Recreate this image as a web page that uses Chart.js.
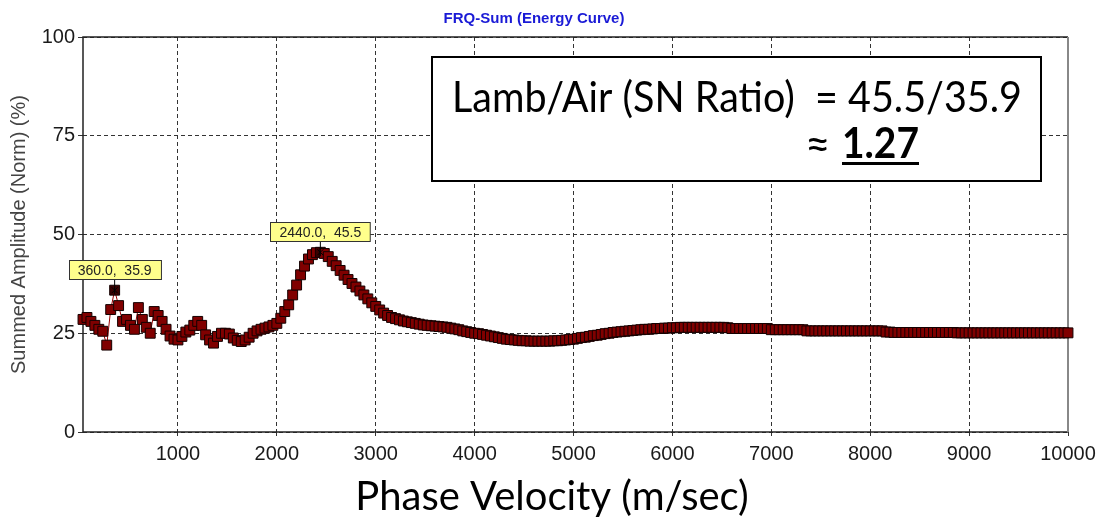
<!DOCTYPE html>
<html>
<head>
<meta charset="utf-8">
<script src="https://cdn.jsdelivr.net/npm/chart.js@4.4.1/dist/chart.umd.min.js"></script>
<style>
  html, body { margin: 0; padding: 0; background: #fff; }
  #wrap { width: 1100px; height: 524px; }
</style>
</head>
<body>
<div id="wrap"><canvas id="energyChart" width="1100" height="524"></canvas></div>
<script>
// tick labels
var xTicks = [1000, 2000, 3000, 4000, 5000, 6000, 7000, 8000, 9000, 10000];
var yTicks = [0, 25, 50, 75, 100];

// phase velocity (m/sec)
var velocity = [
  40, 80, 120, 160, 200, 240, 280, 320, 360, 400,
  440, 480, 520, 560, 600, 640, 680, 720, 760, 800,
  840, 880, 920, 960, 1000, 1040, 1080, 1120, 1160, 1200,
  1240, 1280, 1320, 1360, 1400, 1440, 1480, 1520, 1560, 1600,
  1640, 1680, 1720, 1760, 1800, 1840, 1880, 1920, 1960, 2000,
  2040, 2080, 2120, 2160, 2200, 2240, 2280, 2320, 2360, 2400,
  2440, 2480, 2520, 2560, 2600, 2640, 2680, 2720, 2760, 2800,
  2840, 2880, 2920, 2960, 3000, 3040, 3080, 3120, 3160, 3200,
  3240, 3280, 3320, 3360, 3400, 3440, 3480, 3520, 3560, 3600,
  3640, 3680, 3720, 3760, 3800, 3840, 3880, 3920, 3960, 4000,
  4040, 4080, 4120, 4160, 4200, 4240, 4280, 4320, 4360, 4400,
  4440, 4480, 4520, 4560, 4600, 4640, 4680, 4720, 4760, 4800,
  4840, 4880, 4920, 4960, 5000, 5040, 5080, 5120, 5160, 5200,
  5240, 5280, 5320, 5360, 5400, 5440, 5480, 5520, 5560, 5600,
  5640, 5680, 5720, 5760, 5800, 5840, 5880, 5920, 5960, 6000,
  6040, 6080, 6120, 6160, 6200, 6240, 6280, 6320, 6360, 6400,
  6440, 6480, 6520, 6560, 6600, 6640, 6680, 6720, 6760, 6800,
  6840, 6880, 6920, 6960, 7000, 7040, 7080, 7120, 7160, 7200,
  7240, 7280, 7320, 7360, 7400, 7440, 7480, 7520, 7560, 7600,
  7640, 7680, 7720, 7760, 7800, 7840, 7880, 7920, 7960, 8000,
  8040, 8080, 8120, 8160, 8200, 8240, 8280, 8320, 8360, 8400,
  8440, 8480, 8520, 8560, 8600, 8640, 8680, 8720, 8760, 8800,
  8840, 8880, 8920, 8960, 9000, 9040, 9080, 9120, 9160, 9200,
  9240, 9280, 9320, 9360, 9400, 9440, 9480, 9520, 9560, 9600,
  9640, 9680, 9720, 9760, 9800, 9840, 9880, 9920, 9960, 10000
];

// summed amplitude (norm) (%)
var amplitude = [
  28.5, 29.0, 28.0, 27.0, 26.0, 25.5, 22.0, 31.0, 35.9, 32.0,
  28.0, 28.5, 27.0, 26.0, 31.5, 28.5, 26.5, 25.0, 30.5, 29.5,
  28.0, 26.0, 24.3, 23.5, 23.3, 24.2, 25.3, 25.8, 27.0, 28.0,
  27.0, 24.6, 23.3, 22.5, 24.2, 25.0, 25.0, 24.8, 23.8, 23.2,
  22.9, 23.3, 24.0, 25.0, 25.6, 26.0, 26.3, 26.6, 27.0, 27.5,
  28.8, 30.5, 32.2, 34.7, 37.2, 39.8, 42.0, 43.8, 44.9, 45.4,
  45.5, 45.2, 44.4, 43.2, 42.1, 40.9, 39.7, 38.6, 37.6, 36.7,
  35.7, 34.7, 33.7, 32.7, 31.8, 30.9, 30.1, 29.5, 29.0, 28.7,
  28.4, 28.1, 27.9, 27.7, 27.5, 27.3, 27.1, 27.0, 26.9, 26.8,
  26.7, 26.6, 26.5, 26.3, 26.1, 25.9, 25.6, 25.4, 25.2, 25.0,
  24.9, 24.7, 24.5, 24.3, 24.1, 23.9, 23.7, 23.5, 23.4, 23.3,
  23.2, 23.1, 23.1, 23.0, 23.0, 23.0, 23.0, 23.0, 23.0, 23.1,
  23.1, 23.2, 23.3, 23.4, 23.5, 23.7, 23.9, 24.0, 24.2, 24.4,
  24.5, 24.7, 24.9, 25.0, 25.2, 25.3, 25.4, 25.5, 25.6, 25.7,
  25.8, 25.9, 26.0, 26.0, 26.1, 26.2, 26.2, 26.3, 26.3, 26.4,
  26.4, 26.5, 26.5, 26.5, 26.5, 26.5, 26.5, 26.5, 26.5, 26.5,
  26.5, 26.5, 26.5, 26.4, 26.2, 26.2, 26.2, 26.2, 26.2, 26.2,
  26.2, 26.2, 26.2, 26.2, 25.9, 25.9, 25.9, 25.9, 25.9, 25.9,
  25.9, 25.9, 25.9, 25.6, 25.6, 25.6, 25.6, 25.6, 25.6, 25.6,
  25.6, 25.6, 25.6, 25.6, 25.6, 25.6, 25.6, 25.6, 25.6, 25.6,
  25.6, 25.6, 25.6, 25.3, 25.3, 25.2, 25.2, 25.2, 25.2, 25.2,
  25.2, 25.2, 25.2, 25.2, 25.2, 25.2, 25.2, 25.2, 25.2, 25.2,
  25.2, 25.1, 25.1, 25.1, 25.1, 25.1, 25.1, 25.1, 25.1, 25.1,
  25.1, 25.1, 25.1, 25.1, 25.1, 25.1, 25.1, 25.1, 25.1, 25.1,
  25.1, 25.1, 25.1, 25.1, 25.1, 25.1, 25.1, 25.1, 25.1, 25.1
];

// marked points (the yellow labels)
var markX = [360, 2440];
var markY = [35.9, 45.5];
var markText = ['360.0,  35.9', '2440.0,  45.5'];

var points = [];
for (var i = 0; i < velocity.length; i++) {
  points.push({x: velocity[i], y: amplitude[i]});
}

// solid frame round the plot, grey on the right like the original
var framePlugin = {
  id: 'frame',
  beforeDatasetsDraw: function(chart) {
    var a = chart.chartArea, ctx = chart.ctx;
    ctx.save();
    ctx.lineWidth = 1.5;
    ctx.strokeStyle = '#222';
    ctx.beginPath();
    ctx.moveTo(a.right, a.top);
    ctx.lineTo(a.left, a.top);
    ctx.lineTo(a.left, a.bottom);
    ctx.lineTo(a.right, a.bottom);
    ctx.stroke();
    ctx.strokeStyle = '#888';
    ctx.lineWidth = 2;
    ctx.beginPath();
    ctx.moveTo(a.right, a.top);
    ctx.lineTo(a.right, a.bottom);
    ctx.stroke();
    ctx.restore();
  }
};

// yellow value labels above the two marked points
var markPlugin = {
  id: 'marks',
  afterDatasetsDraw: function(chart) {
    var ctx = chart.ctx;
    var xs = chart.scales.x, ys = chart.scales.y;
    ctx.save();
    ctx.font = '14px Arial';
    for (var i = 0; i < markX.length; i++) {
      var px = xs.getPixelForValue(markX[i]);
      var py = ys.getPixelForValue(markY[i]);
      // asterisk on the marked point
      ctx.strokeStyle = '#000';
      ctx.lineWidth = 1;
      ctx.beginPath();
      ctx.moveTo(px - 3, py - 3); ctx.lineTo(px + 3, py + 3);
      ctx.moveTo(px + 3, py - 3); ctx.lineTo(px - 3, py + 3);
      ctx.moveTo(px, py - 4); ctx.lineTo(px, py + 4);
      ctx.stroke();
      var w = ctx.measureText(markText[i]).width + 18;
      var h = 19;
      var bx = Math.round(px - w / 2) + 0.5;
      var by = Math.round(py - 11 - h) + 0.5;
      ctx.beginPath();
      ctx.moveTo(px, by + h);
      ctx.lineTo(px, py - 4);
      ctx.stroke();
      ctx.fillStyle = '#ffff8c';
      ctx.fillRect(bx, by, w, h);
      ctx.strokeStyle = '#333';
      ctx.strokeRect(bx, by, w, h);
      ctx.fillStyle = '#222';
      ctx.textBaseline = 'middle';
      ctx.textAlign = 'center';
      ctx.fillText(markText[i], px, by + h / 2 + 1);
    }
    ctx.restore();
  }
};

// the SN ratio note in the upper right, and the big axis caption
var notePlugin = {
  id: 'note',
  afterDraw: function(chart) {
    var ctx = chart.ctx;
    ctx.save();
    ctx.fillStyle = '#fff';
    ctx.fillRect(432, 57, 609, 124);
    ctx.lineWidth = 2;
    ctx.strokeStyle = '#000';
    ctx.strokeRect(432, 57, 609, 124);
    ctx.fillStyle = '#000';
    ctx.textBaseline = 'alphabetic';
    ctx.textAlign = 'left';
    ctx.font = '42px Lato';
    ctx.fillText('Lamb/Air (SN Ratio)  = 45.5/35.9', 452, 112, 570);
    ctx.font = '44px Lato';
    ctx.fillText('\u2248', 805, 160);
    ctx.font = 'bold 42px Lato';
    ctx.fillText('1.27', 842, 158, 77);
    ctx.fillRect(842, 162, 77, 3);
    // x axis caption, centred on the page as in the original
    ctx.font = '40px Lato';
    ctx.textAlign = 'center';
    ctx.textBaseline = 'middle';
    ctx.fillText('Phase Velocity (m/sec)', 552, 497);
    ctx.restore();
  }
};

var chart = new Chart(document.getElementById('energyChart'), {
  type: 'scatter',
  data: {
    datasets: [{
      label: 'FRQ-Sum',
      data: points,
      showLine: true,
      borderColor: '#9a0000',
      borderWidth: 1,
      pointStyle: 'rect',
      pointRadius: 7,
      pointBorderWidth: 1,
      pointBorderColor: '#140000',
      pointBackgroundColor: function(c) {
        var v = c.raw && c.raw.x;
        return markX.indexOf(v) >= 0 ? '#3a0000' : '#800000';
      },
      clip: false
    }]
  },
  options: {
    responsive: false,
    animation: false,
    events: [],
    layout: { padding: { left: 0, right: 32, top: 0, bottom: 0 } },
    plugins: {
      legend: { display: false },
      tooltip: { enabled: false },
      title: {
        display: true,
        text: 'FRQ-Sum (Energy Curve)',
        color: '#1a1ad6',
        font: { family: 'Arial', size: 15, weight: 'bold' },
        padding: { top: 10, bottom: 9 }
      }
    },
    scales: {
      x: {
        type: 'linear',
        min: 40,
        max: 10000,
        afterBuildTicks: function(scale) {
          scale.ticks = xTicks.map(function(v) { return {value: v}; });
        },
        afterFit: function(scale) {
          scale.height = 92;
          scale.paddingLeft = 0;
          scale.paddingRight = 0;
        },
        ticks: {
          color: '#1a1a1a',
          font: { family: 'Arial', size: 20 },
          padding: 6,
          maxRotation: 0,
          autoSkip: false,
          callback: function(v) { return String(v); }
        },
        grid: { color: '#333', lineWidth: 1, tickLength: 4 },
        border: { display: false, dash: [4, 3] },
        title: { display: false }
      },
      y: {
        min: 0,
        max: 100,
        afterBuildTicks: function(scale) {
          scale.ticks = yTicks.map(function(v) { return {value: v}; });
        },
        afterFit: function(scale) {
          scale.width = 83;
          scale.paddingTop = 0;
          scale.paddingBottom = 0;
        },
        ticks: {
          color: '#1a1a1a',
          font: { family: 'Arial', size: 20 },
          padding: 3
        },
        grid: { color: '#333', lineWidth: 1, tickLength: 5 },
        border: { display: false, dash: [4, 3] },
        title: {
          display: true,
          text: 'Summed Amplitude (Norm) (%)',
          color: '#444',
          font: { family: 'Arial', size: 20 },
          padding: { top: 7, bottom: 0 }
        }
      }
    }
  },
  plugins: [framePlugin, markPlugin, notePlugin]
});
</script>
</body>
</html>
